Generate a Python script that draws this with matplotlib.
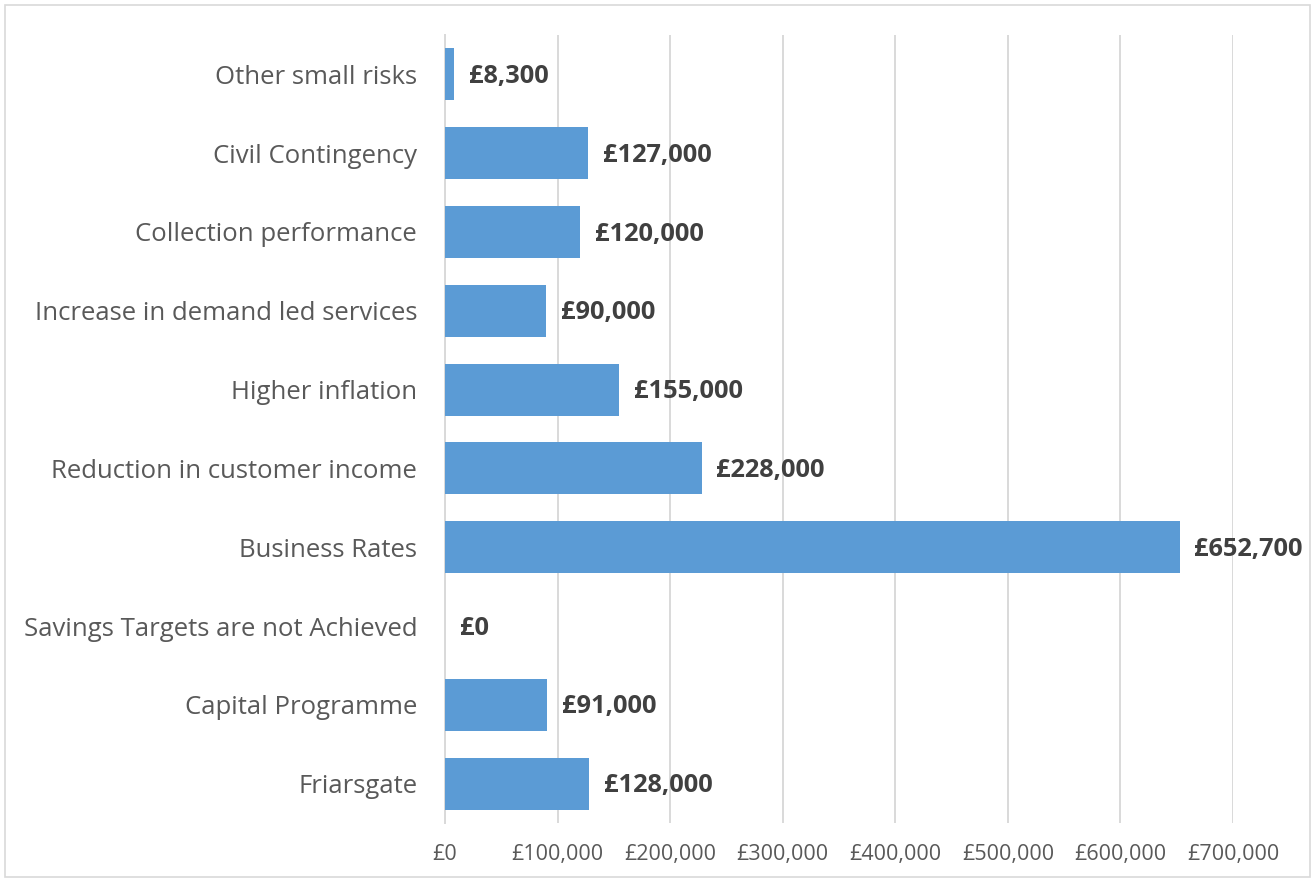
import matplotlib.pyplot as plt
from matplotlib.patches import Rectangle
from matplotlib.ticker import FuncFormatter

# Risk categories (top to bottom as shown) and amounts in £
categories = [
    "Other small risks",
    "Civil Contingency",
    "Collection performance",
    "Increase in demand led services",
    "Higher inflation",
    "Reduction in customer income",
    "Business Rates",
    "Savings Targets are not Achieved",
    "Capital Programme",
    "Friarsgate",
]
values = [8300, 127000, 120000, 90000, 155000, 228000, 652700, 0, 91000, 128000]
xticks = [0, 100000, 200000, 300000, 400000, 500000, 600000, 700000]

plt.rcParams["font.family"] = ["Open Sans", "DejaVu Sans"]

fig = plt.figure(figsize=(13.15, 8.81), dpi=100)
ax = fig.add_axes([0.3384, 0.0658, 0.5992, 0.8945])

y = list(range(len(categories)))
ax.barh(y, values, height=0.66, color="#5B9BD5", zorder=3)

for yi, v in zip(y, values):
    ax.annotate(f"£{v:,}", xy=(v, yi), xytext=(10.5, -1.5), textcoords="offset points",
                ha="left", va="center", fontsize=18.3, fontweight="bold", color="#404040")

ax.set_ylim(len(categories) - 0.5, -0.5)
ax.set_xlim(0, 700000)
ax.set_xticks(xticks)
ax.xaxis.set_major_formatter(FuncFormatter(lambda v, p: f"£{int(v):,}"))
ax.set_yticks(y)
ax.set_yticklabels(categories)

ax.grid(axis="x", color="#d9d9d9", linewidth=1.4, zorder=0)
for s in ["top", "right", "bottom"]:
    ax.spines[s].set_visible(False)
ax.spines["left"].set_color("#d9d9d9")
ax.spines["left"].set_linewidth(1.4)
ax.tick_params(axis="both", length=0)
ax.tick_params(axis="y", labelsize=18.5, labelcolor="#595959", pad=20)
ax.tick_params(axis="x", labelsize=15.5, labelcolor="#595959", pad=15)

# light border around the chart
fig.patches.append(Rectangle((0.004, 0.004), 0.992, 0.99, transform=fig.transFigure,
                             fill=False, edgecolor="#d9d9d9", linewidth=1.2))

plt.savefig("out.png", dpi=100)
plt.close()
